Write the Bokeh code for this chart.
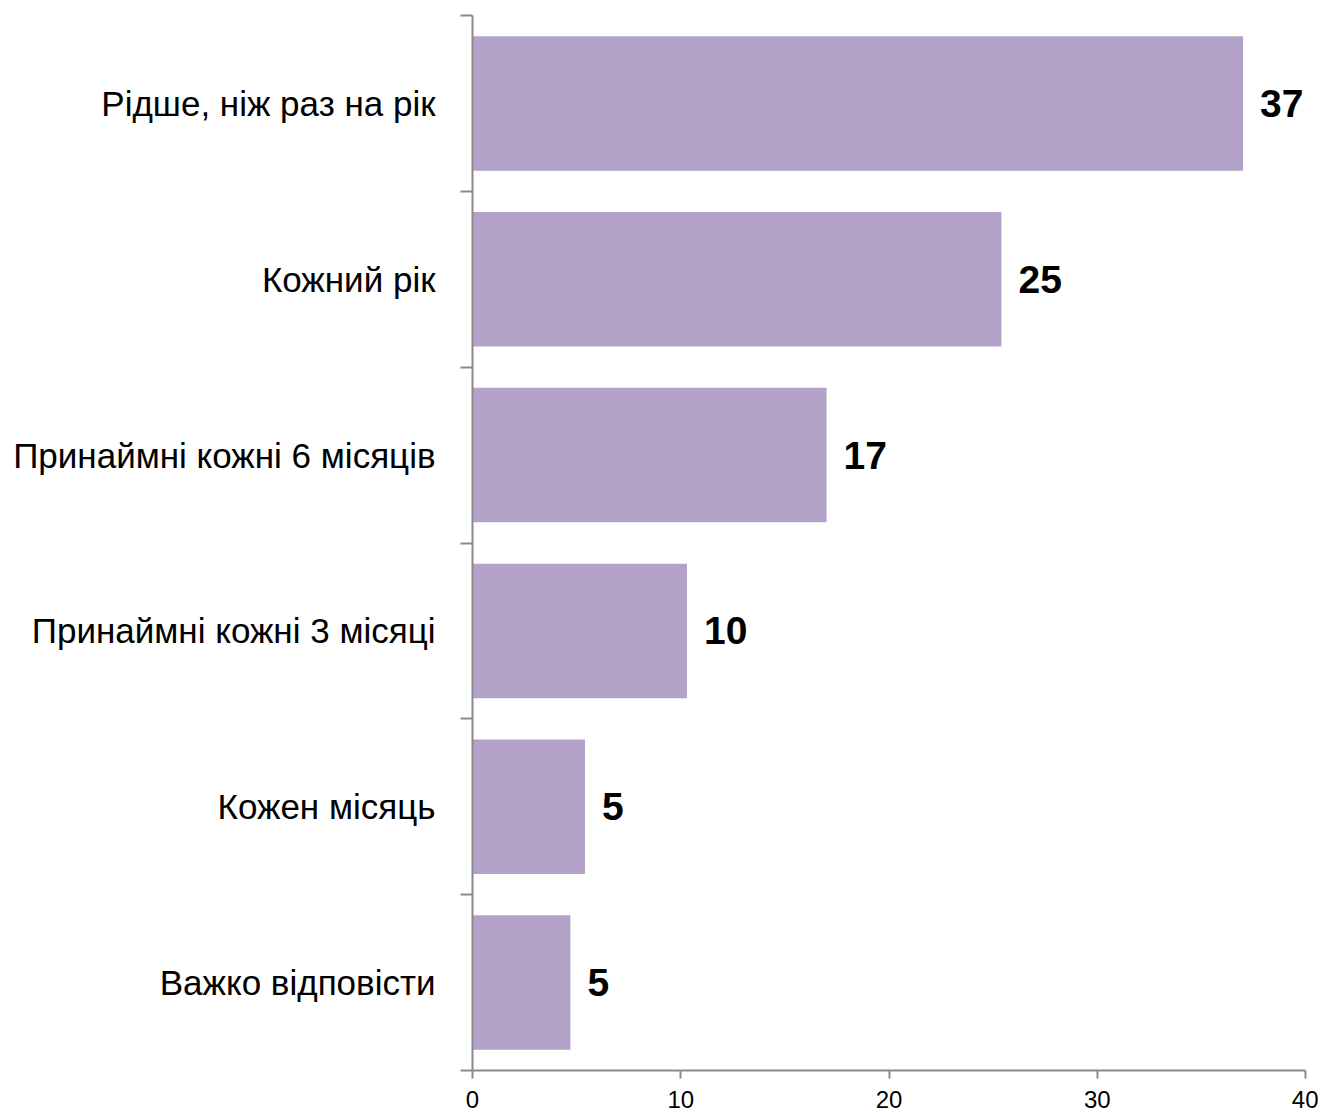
from bokeh.plotting import figure
from bokeh.models import ColumnDataSource, FixedTicker, Range1d
from bokeh.embed import file_html
from bokeh.resources import INLINE
from bokeh.core.properties import value

categories = [
    "Рідше, ніж раз на рік",
    "Кожний рік",
    "Принаймні кожні 6 місяців",
    "Принаймні кожні 3 місяці",
    "Кожен місяць",
    "Важко відповісти",
]
values = [37.0, 25.4, 17.0, 10.3, 5.4, 4.7]
x_ticks = [0, 10, 20, 30, 40]

n = len(categories)
ypos = [n - 0.5 - i for i in range(n)]
labels = [f"{v:.0f}" for v in values]

src = ColumnDataSource(dict(y=ypos, v=values, lab=labels, cat=categories))

FONT = "Liberation Sans"
AXIS_COLOR = "#8a8a8a"

W, H = 1318, 1113
p = figure(
    width=W, height=H,
    output_backend="svg", toolbar_location=None,
    x_range=Range1d(0, 40), y_range=Range1d(0, n),
    min_border_left=472, min_border_right=W - 1305,
    min_border_top=15, min_border_bottom=H - 1070,
)
p.outline_line_color = None
p.xgrid.visible = False
p.ygrid.visible = False
p.background_fill_color = "white"
p.border_fill_color = "white"

p.hbar(y="y", right="v", left=0, height=0.765, source=src,
       fill_color="#B3A2C7", line_color=None)

p.text(x="v", y="y", text="lab", source=src, x_offset=17,
       text_align="left", text_baseline="middle",
       text_font=value(FONT), text_font_size="39px",
       text_font_style="bold", text_color="black")

# x axis
xa = p.xaxis[0]
xa.ticker = FixedTicker(ticks=x_ticks)
xa.axis_line_color = AXIS_COLOR
xa.axis_line_width = 2
xa.major_tick_line_color = AXIS_COLOR
xa.major_tick_line_width = 2
xa.major_tick_out = 8
xa.major_tick_in = 0
xa.minor_tick_line_color = None
xa.major_label_text_font = FONT
xa.major_label_text_font_size = "24px"
xa.major_label_text_color = "black"
xa.major_label_standoff = 12

# y axis: labels at centers, ticks at boundaries
ya = p.yaxis[0]
ya.ticker = FixedTicker(ticks=ypos, minor_ticks=list(range(n + 1)))
ya.major_label_overrides = {y: c for y, c in zip(ypos, categories)}
ya.axis_line_color = AXIS_COLOR
ya.axis_line_width = 2
ya.major_tick_line_color = None
ya.major_tick_out = 0
ya.major_tick_in = 0
ya.minor_tick_line_color = AXIS_COLOR
ya.minor_tick_line_width = 2
ya.minor_tick_out = 12
ya.minor_tick_in = 0
ya.major_label_text_font = FONT
ya.major_label_text_font_size = "35px"
ya.major_label_text_color = "black"
ya.major_label_standoff = 25

open("out.html", "w").write(file_html(p, INLINE))
